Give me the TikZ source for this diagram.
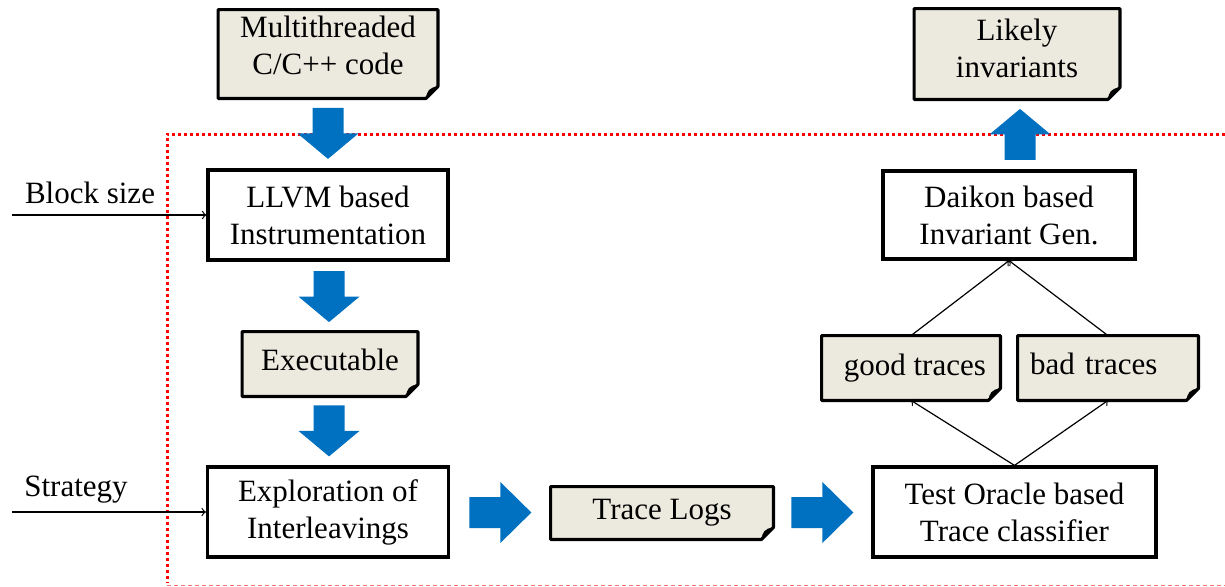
\documentclass[tikz,border=0pt]{standalone}
\usepackage{fontspec}
\setmainfont{Liberation Serif}
\usepackage{tikz}
\usetikzlibrary{calc,backgrounds}
\definecolor{arrowblue}{HTML}{0070C0}
\definecolor{paper}{HTML}{ECEADF}

\tikzset{
  box/.style={draw, line width=1.6pt, align=center, inner sep=2pt},
  docnode/.style={align=center, inner sep=2pt},
  docline/.style={draw=black, fill=paper, line width=1.6pt, line join=round},
  thinarrow/.style={->, line width=0.6pt},
  pics/fatarrow/.style={code={
    \fill[arrowblue] (-#1,-15.5) -- (0,-15.5) -- (0,-30.5) -- (#1,0)
      -- (0,30.5) -- (0,15.5) -- (-#1,15.5) -- cycle;
  }},
  pics/fatarrow/.default=25.5
}

\begin{document}
\begin{tikzpicture}[x=0.5pt, y=-0.5pt, font=\fontsize{15.5}{18.5}\selectfont]
  \useasboundingbox (0,0) rectangle (1225,586);

  % analysis frame
  \draw[red, line width=1.5pt, dash pattern=on 1.5pt off 1.5pt] (1225,134) -- (167,134) -- (167,583);
  \draw[red!55, line width=0.5pt, dash pattern=on 2pt off 1.5pt] (167,585) -- (1225,585);

  % documents
  \node[docnode, minimum width=109.5pt, minimum height=44pt, text depth=9pt] (code) at (328,54) {Multithreaded\\C/C++ code};
  \node[docnode, minimum width=87.5pt, minimum height=32pt, text depth=4pt] (exe) at (330,364) {Executable};
  \node[docnode, minimum width=111pt, minimum height=26pt] (logs) at (662,513) {Trace Logs};
  \node[docnode, minimum width=102.5pt, minimum height=45pt, text depth=6pt] (likely) at (1017,54) {Likely\\invariants};
  \node[docnode, minimum width=89pt, minimum height=32pt] (good) at (911,368) {~good traces};
  \node[docnode, minimum width=90pt, minimum height=32pt, text width=78pt, align=left, text depth=4pt] (bad) at (1108,368) {bad traces};

  % processes
  \node[box, minimum width=120pt, minimum height=45pt] (llvm) at (328,215) {LLVM based\\Instrumentation};
  \node[box, minimum width=120.5pt, minimum height=45pt] (explor) at (328,512) {Exploration of\\Interleavings};
  \node[box, minimum width=141.5pt, minimum height=45pt] (oracle) at (1014.5,512) {Test Oracle based\\Trace classifier};
  \node[box, minimum width=126pt, minimum height=44pt] (daikon) at (1009,215) {Daikon based\\Invariant Gen.};

  \begin{scope}[on background layer]
    \foreach \n in {code,exe,logs,likely,good,bad} {
      \path[docline] (\n.north west) -- (\n.north east) -- ($(\n.south east)+(0,-12)$)
        -- ($(\n.south east)+(-12,0)$) -- (\n.south west) -- cycle;
      \fill ($(\n.south east)+(0,-12)$) .. controls ($(\n.south east)+(-9,-11)$) and ($(\n.south east)+(-11,-7)$) .. ($(\n.south east)+(-12,0)$) -- cycle;
    }
  \end{scope}

  % inputs
  \node (bsize) at (90,193) {Block size};
  \node (strat) at (76,490) {Strategy};
  \coordinate (bsin) at (12,215);
  \coordinate (stin) at (12,512);
  \draw[thinarrow] (bsin) -- (llvm.west);
  \draw[thinarrow] (stin) -- (explor.west);

  % block arrows
  \pic[rotate=-90] at ($(code.south)!0.5!(llvm.north)$) {fatarrow};
  \pic[rotate=-90] at ($(llvm.south)!0.5!(exe.north)$) {fatarrow};
  \pic[rotate=-90] at ($(exe.south)!0.5!(explor.north)$) {fatarrow};
  \pic at ($(explor.east)!0.5!(logs.west)$) {fatarrow=31};
  \pic at ($(logs.east)!0.5!(oracle.west)$) {fatarrow=31};
  \pic[rotate=90] at ($(daikon.north)!0.5!(likely.south)+(7,0)$) {fatarrow};

  % classification
  \draw[thinarrow] (oracle.north) -- (good.south);
  \draw[thinarrow] (oracle.north) -- (bad.south);
  \draw[thinarrow] (good.north) -- (daikon.south);
  \draw[thinarrow] (bad.north) -- (daikon.south);
\end{tikzpicture}
\end{document}
